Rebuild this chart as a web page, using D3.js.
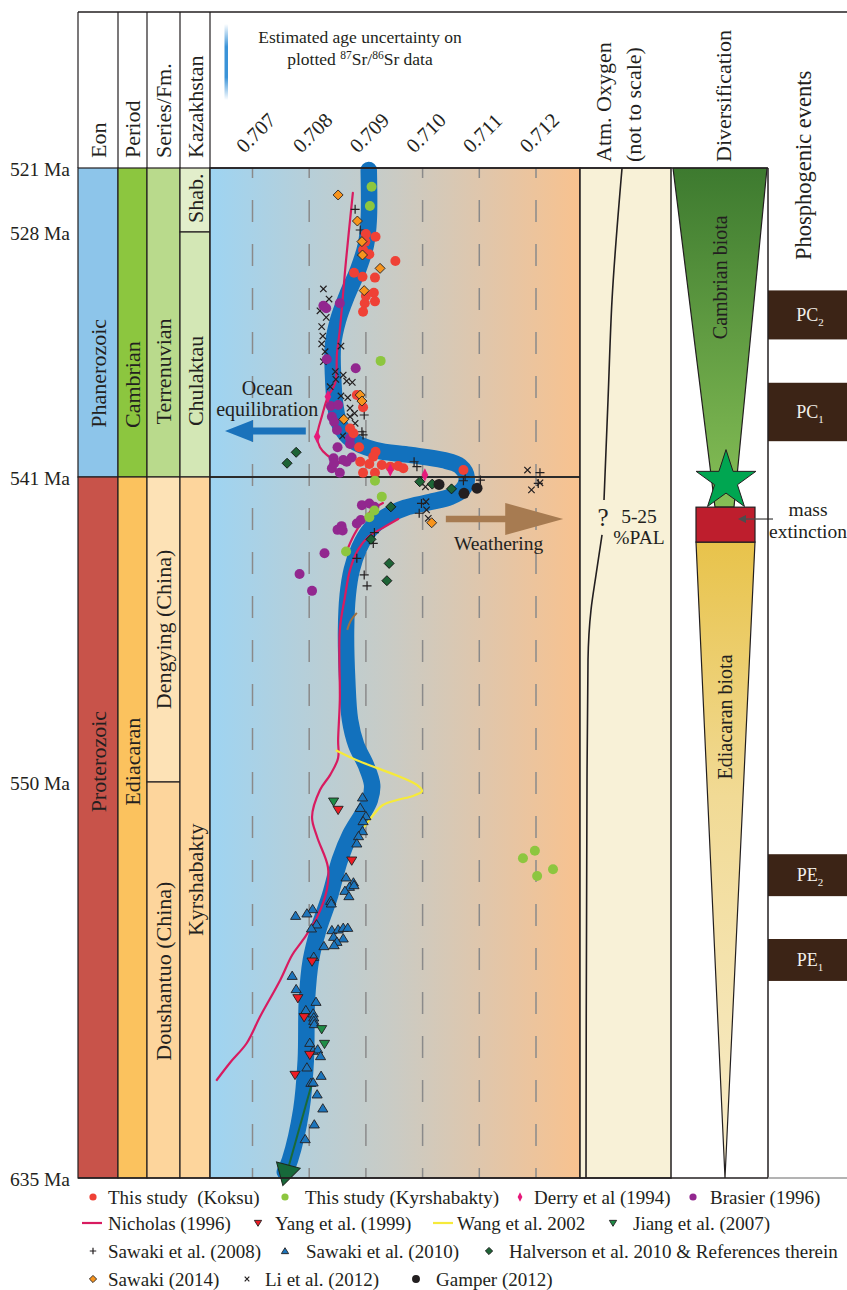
<!DOCTYPE html>
<html>
<head>
<meta charset="utf-8">
<script src="https://cdn.jsdelivr.net/npm/d3@7"></script>
<style>
  body { margin: 0; background: #fff; }
  svg text { font-family: "Liberation Serif", "Times New Roman", serif; fill: #231f20; }
</style>
</head>
<body>
<svg id="chart" width="847" height="1290"></svg>
<script>
// ---------------- Data ----------------
const ageTicks = [521, 528, 541, 550, 635];
const srTicks = [0.707, 0.708, 0.709, 0.710, 0.711, 0.712];

// Composite seawater 87Sr/86Sr curve: [age Ma, 87Sr/86Sr]
const srTrend = [
  [521.22, 0.70905], [526.69, 0.70905], [528.69, 0.70900], [530.02, 0.70886], [531.34, 0.70867],
  [532.67, 0.70851], [534.00, 0.70842], [535.59, 0.70842], [537.18, 0.70846], [538.24, 0.70854],
  [539.04, 0.70875], [539.57, 0.70916], [539.83, 0.70978], [540.10, 0.71036], [540.42, 0.71066],
  [541.03, 0.71078], [541.38, 0.71070], [541.59, 0.71048], [541.74, 0.71013], [541.91, 0.70969],
  [542.18, 0.70934], [542.56, 0.70907], [543.10, 0.70888], [543.74, 0.70875], [544.48, 0.70868],
  [545.51, 0.70865], [546.99, 0.70867], [548.17, 0.70872], [548.91, 0.70883], [549.50, 0.70900],
  [550.64, 0.70911], [553.86, 0.70907], [557.08, 0.70893], [561.38, 0.70872], [566.74, 0.70854],
  [574.25, 0.70837], [581.77, 0.70816], [588.21, 0.70803], [596.79, 0.70796], [609.67, 0.70794],
  [620.40, 0.70786], [631.13, 0.70766], [633.71, 0.70757]
];

// Nicholas (1996) curve, three traced pieces
const nicholasUpper = [
  [523.73, 0.70877], [529.49, 0.70865], [533.20, 0.70854], [534.42, 0.70849], [536.01, 0.70846],
  [536.74, 0.70833], [537.71, 0.70823], [538.86, 0.70814], [539.42, 0.70819], [539.83, 0.70831],
  [540.26, 0.70854]
];
const nicholasArc = [
  [541.77, 0.70930], [541.97, 0.70911], [542.33, 0.70893], [542.71, 0.70879], [543.15, 0.70867]
];
const nicholasLower = [
  [542.24, 0.70957], [542.50, 0.70930], [542.77, 0.70904], [543.15, 0.70886], [543.74, 0.70872],
  [544.54, 0.70863], [545.51, 0.70854], [547.58, 0.70854], [548.76, 0.70851], [549.29, 0.70851],
  [549.79, 0.70837], [551.72, 0.70819], [557.51, 0.70805], [561.81, 0.70814], [568.24, 0.70833],
  [573.18, 0.70831], [578.98, 0.70814], [583.91, 0.70789], [587.13, 0.70770], [592.50, 0.70749],
  [600.44, 0.70713], [606.02, 0.70690], [610.31, 0.70660], [613.96, 0.70637]
];

// Wang et al. 2002
const wang2002 = [
  [549.06, 0.70847], [549.35, 0.70883], [549.59, 0.70920], [549.88, 0.70965], [550.64, 0.70990],
  [551.93, 0.70999], [553.00, 0.70983], [553.86, 0.70955], [554.94, 0.70930], [557.08, 0.70913],
  [559.66, 0.70897]
];

// Jiang et al. (2007) trend with end arrow
const jiangTrend = [[614.61, 0.70805], [632.85, 0.70763]];
const jiangTip = [633.7, 0.70760];

// short brown trace
const brownTrace = [[545.51, 0.70867], [545.22, 0.70874], [545.01, 0.70884]];

// Point series: [age Ma, 87Sr/86Sr]
const koksu = [
  [528.11, 0.70900], [528.25, 0.70917], [528.51, 0.70899], [528.96, 0.70895], [529.18, 0.70906],
  [529.54, 0.70952], [530.16, 0.70879], [530.37, 0.70894], [530.42, 0.70916], [531.40, 0.70900],
  [531.22, 0.70914], [531.78, 0.70898], [531.68, 0.70916], [532.23, 0.70895],
  [536.65, 0.70884], [537.30, 0.70895], [538.42, 0.70872], [538.68, 0.70878], [539.42, 0.70888],
  [539.66, 0.70917], [539.92, 0.70913], [540.19, 0.70890], [540.31, 0.70906], [540.36, 0.70928],
  [540.45, 0.70943], [540.42, 0.70957], [540.54, 0.70966], [540.77, 0.70895], [540.77, 0.70916],
  [540.63, 0.71072]
];
const kyrshabakty = [
  [523.05, 0.70910], [525.16, 0.70907], [534.84, 0.70926], [541.11, 0.70916], [541.58, 0.70928],
  [541.99, 0.70915], [542.19, 0.70906], [543.20, 0.70865],
  [564.75, 0.71198], [566.38, 0.71177], [568.74, 0.71230], [570.18, 0.71202]
];
const derry1994 = [[536.74, 0.70833], [538.86, 0.70814], [540.89, 0.71004], [540.63, 0.70943]];
const brasier1996 = [
  [531.91, 0.70825], [532.05, 0.70830], [531.78, 0.70854], [534.75, 0.70831], [535.23, 0.70882],
  [537.23, 0.70838], [537.18, 0.70851], [537.80, 0.70840], [538.07, 0.70844], [538.51, 0.70849],
  [538.95, 0.70872], [539.25, 0.70872], [539.42, 0.70850], [540.01, 0.70843], [540.10, 0.70860],
  [539.97, 0.70875], [540.54, 0.70840], [540.77, 0.70854], [540.19, 0.70866], [540.27, 0.70844],
  [541.83, 0.70893], [541.78, 0.70906], [541.88, 0.70915], [542.37, 0.70884], [542.27, 0.70891],
  [542.45, 0.70857], [542.56, 0.70850], [542.58, 0.70859], [543.25, 0.70827], [543.86, 0.70783],
  [544.36, 0.70805]
];
const yang1999 = [
  [556.01, 0.70851], [566.89, 0.70875], [588.57, 0.70805], [596.43, 0.70780], [600.51, 0.70791],
  [608.60, 0.70801], [612.89, 0.70775]
];
const jiang2007 = [[554.23, 0.70843], [603.08, 0.70822], [606.24, 0.70827]];
const sawaki2008 = [
  [525.52, 0.70881], [527.78, 0.70890], [537.71, 0.70897], [538.60, 0.70893], [538.77, 0.70895],
  [540.19, 0.70985], [540.45, 0.70990], [540.98, 0.71075], [541.11, 0.71072], [541.09, 0.71102],
  [540.77, 0.71207], [541.19, 0.71204], [541.78, 0.70998], [542.07, 0.70994], [542.64, 0.70915],
  [542.96, 0.70913], [543.40, 0.70884], [543.89, 0.70897], [544.21, 0.70902]
];
const sawaki2010 = [
  [553.28, 0.70894], [555.52, 0.70890], [557.30, 0.70900], [558.37, 0.70895], [560.52, 0.70894],
  [561.59, 0.70887], [563.16, 0.70884], [570.46, 0.70865], [571.53, 0.70878], [572.47, 0.70871],
  [573.33, 0.70863], [574.47, 0.70870], [572.11, 0.70879], [575.48, 0.70838], [576.04, 0.70839],
  [577.26, 0.70806], [578.18, 0.70796], [578.70, 0.70776], [580.54, 0.70813], [581.40, 0.70804],
  [581.77, 0.70840], [581.62, 0.70851], [581.27, 0.70860], [581.27, 0.70868], [583.20, 0.70843],
  [583.55, 0.70860], [584.28, 0.70849], [585.20, 0.70826], [584.99, 0.70844], [587.50, 0.70808],
  [591.58, 0.70770], [594.43, 0.70777], [597.16, 0.70812], [598.94, 0.70794], [599.65, 0.70807],
  [600.51, 0.70808], [601.23, 0.70808], [601.94, 0.70809], [605.96, 0.70801], [607.67, 0.70807],
  [607.37, 0.70815], [608.81, 0.70820], [611.24, 0.70796], [613.04, 0.70821], [614.54, 0.70803],
  [614.46, 0.70807], [617.03, 0.70814], [620.04, 0.70824], [623.47, 0.70809], [626.63, 0.70793]
];
const halverson2010 = [
  [539.69, 0.70777], [540.27, 0.70761], [541.14, 0.70995], [541.21, 0.71017], [541.35, 0.71051],
  [541.88, 0.70944], [542.84, 0.70909], [543.55, 0.70941], [544.06, 0.70937]
];
const sawaki2014 = [
  [523.95, 0.70851], [526.80, 0.70885], [528.51, 0.70893], [529.22, 0.70894], [529.93, 0.70925],
  [531.11, 0.70897], [536.65, 0.70890], [536.97, 0.70893], [537.94, 0.70861], [542.35, 0.71016]
];
const li2012 = [
  [531.02, 0.70825], [531.56, 0.70835], [532.18, 0.70819], [532.53, 0.70830], [533.02, 0.70822],
  [533.52, 0.70824], [533.94, 0.70822], [534.05, 0.70856], [534.35, 0.70828], [534.88, 0.70825],
  [535.41, 0.70846], [535.59, 0.70860], [535.82, 0.70847], [535.91, 0.70866], [535.98, 0.70876],
  [536.21, 0.70837], [536.70, 0.70856], [536.79, 0.70868], [537.35, 0.70872], [537.62, 0.70880],
  [537.80, 0.70872], [538.15, 0.70881], [538.82, 0.70859], [540.63, 0.71185], [541.38, 0.71192],
  [541.17, 0.71207], [541.29, 0.71005], [541.73, 0.71006], [541.97, 0.71007], [542.22, 0.71010]
];
const gamper2012 = [[541.22, 0.71029], [541.48, 0.71073], [541.33, 0.71096]];

// Stratigraphic columns
const eonUnits = [
  { name: "Phanerozoic", from: 521, to: 541, mid: 535.5 },
  { name: "Proterozoic", from: 541, to: 635, mid: 549.4 }
];
const periodUnits = [
  { name: "Cambrian", from: 521, to: 541, mid: 536.1 },
  { name: "Ediacaran", from: 541, to: 635, mid: 549.4 }
];
const seriesUnits = [
  { name: "Terrenuvian", from: 521, to: 541, mid: 535.4 },
  { name: "Dengying (China)", from: 541, to: 550, mid: 545.5 },
  { name: "Doushantuo (China)", from: 550, to: 635, mid: 590.6 }
];
const kazakhUnits = [
  { name: "Shab.", from: 521, to: 528, mid: 524.3 },
  { name: "Chulaktau", from: 528, to: 541, mid: 535.9 },
  { name: "Kyrshabakty", from: 541, to: 635, mid: 571.0 }
];

// Atmospheric oxygen (relative, not to scale): [age Ma, level]
const oxygenUpper = [[521, 0.462], [531.6, 0.352], [536.9, 0.308], [541.68, 0.264]];
const oxygenLower = [[542.71, 0.242], [543.89, 0.176], [544.92, 0.121], [546.4, 0.088], [549.94, 0.077], [635, 0.066]];

// Diversification intervals (Ma)
const cambrianBiota = { from: 521, to: 541.89 };
const massExtinction = { from: 541.89, to: 542.92 };
const ediacaranBiota = { from: 542.92, to: 635 };
const radiationAge = 541.12;

// Phosphogenic events (Ma)
const phosEvents = [
  { name: "PC", sub: "2", from: 531.1, to: 533.7 },
  { name: "PC", sub: "1", from: 536.0, to: 539.1 },
  { name: "PE", sub: "2", from: 565.5, to: 574.5 },
  { name: "PE", sub: "1", from: 583.7, to: 592.7 }
];

// ---------------- Layout ----------------
const W = 847;
const plotL = 210, plotR = 580, plotTop = 168, plotBottom = 1178;
const ageY = [168, 232, 477, 782, 1178];
const y = d3.scaleLinear().domain(ageTicks).range(ageY);
const x = d3.scaleLinear().domain([0.707, 0.712]).range([252.5, 536]);
const oxX = d3.scaleLinear().domain([0, 1]).range([580, 671]);

const svg = d3.select("#chart");
const defs = svg.append("defs");

function linGrad(id, vertical, stops) {
  const g = defs.append("linearGradient").attr("id", id)
    .attr("x1", 0).attr("y1", 0).attr("x2", vertical ? 0 : 1).attr("y2", vertical ? 1 : 0);
  stops.forEach(([o, c, op]) => g.append("stop").attr("offset", o).attr("stop-color", c)
    .attr("stop-opacity", op === undefined ? 1 : op));
}
linGrad("srBg", false, [[0, "#9ed4f2"], [0.25, "#b5cfda"], [0.5, "#cacbc4"], [0.75, "#e1c6aa"], [1, "#f8c28f"]]);
linGrad("camGrad", true, [[0, "#3d7a2f"], [1, "#86bf56"]]);
linGrad("ediGrad", true, [[0, "#e8c34b"], [0.4, "#f1da95"], [1, "#f8edcb"]]);
linGrad("uncGrad", true, [[0, "#3a93d8", 0], [0.3, "#3a93d8", 1], [0.7, "#3a93d8", 1], [1, "#3a93d8", 0]]);

const ink = "#231f20";

// ---------- Header ----------
svg.append("line").attr("x1", 78).attr("x2", W).attr("y1", 12).attr("y2", 12)
  .attr("stroke", ink).attr("stroke-width", 1.5);

const cols = [
  { x0: 78, x1: 118, title: "Eon", units: eonUnits, colors: ["#8dc5ea", "#c8534a"] },
  { x0: 118, x1: 147, title: "Period", units: periodUnits, colors: ["#8cc63f", "#fbc25e"] },
  { x0: 147, x1: 180, title: "Series/Fm.", units: seriesUnits, colors: ["#b9da8c", "#fde2b6", "#fdd59c"] },
  { x0: 180, x1: 210, title: "Kazakhstan", units: kazakhUnits, colors: ["#e2eecb", "#d3e7b5", "#fdd59c"] }
];

cols.forEach(c => {
  const cx = (c.x0 + c.x1) / 2;
  svg.append("line").attr("x1", c.x0).attr("x2", c.x0).attr("y1", 12).attr("y2", plotTop)
    .attr("stroke", ink).attr("stroke-width", 1.2);
  svg.append("text").attr("transform", `translate(${cx},158) rotate(-90)`)
    .attr("dy", "0.35em").style("font-size", "22px").text(c.title);
  const g = svg.append("g");
  g.selectAll("rect").data(c.units).join("rect")
    .attr("x", c.x0).attr("width", c.x1 - c.x0)
    .attr("y", d => y(d.from)).attr("height", d => y(d.to) - y(d.from))
    .attr("fill", (d, i) => c.colors[i]).attr("stroke", ink).attr("stroke-width", 1.2);
  g.selectAll("text").data(c.units).join("text")
    .attr("transform", d => `translate(${cx},${y(d.mid)}) rotate(-90)`)
    .attr("text-anchor", "middle").attr("dy", "0.35em")
    .style("font-size", "22px").text(d => d.name);
});
svg.append("line").attr("x1", 210).attr("x2", 210).attr("y1", 12).attr("y2", plotTop)
  .attr("stroke", ink).attr("stroke-width", 1.2);

// Age labels
const gy = svg.append("g").attr("transform", "translate(73,0)")
  .call(d3.axisLeft(y).tickValues(ageTicks).tickSize(0).tickPadding(3).tickFormat(d => d + " Ma"));
gy.select(".domain").remove();
gy.attr("font-family", null).attr("font-size", null);
gy.selectAll("text").style("font-size", "19.5px").attr("dy", "0.4em");

// Sr ratio labels, slanted 45 degrees
const fmtSr = d3.format(".3f");
const srLab = svg.append("g").selectAll("g").data(srTicks).join("g")
  .attr("transform", d => `translate(${x(d) - 8},154) rotate(-45)`);
srLab.append("text").attr("x", 0).attr("y", 0)
  .style("font-size", "20.5px").text(d => fmtSr(d));

// Age uncertainty note
svg.append("rect").attr("x", 224.5).attr("y", 24).attr("width", 3.5).attr("height", 76)
  .attr("fill", "url(#uncGrad)");
svg.append("text").attr("x", 360).attr("y", 43).attr("text-anchor", "middle")
  .style("font-size", "17.5px").text("Estimated age uncertainty on");
const cap2 = svg.append("text").attr("x", 360).attr("y", 65).attr("text-anchor", "middle")
  .style("font-size", "17.5px");
cap2.append("tspan").text("plotted ");
cap2.append("tspan").attr("dy", -6).style("font-size", "11.5px").text("87");
cap2.append("tspan").attr("dy", 6).text("Sr/");
cap2.append("tspan").attr("dy", -6).style("font-size", "11.5px").text("86");
cap2.append("tspan").attr("dy", 6).text("Sr data");

// Right-hand column titles
[["Atm. Oxygen", 603], ["(not to scale)", 633], ["Diversification", 723]].forEach(([t, cx]) => {
  svg.append("text").attr("transform", `translate(${cx},162) rotate(-90)`)
    .attr("dy", "0.35em").style("font-size", "22px").text(t);
});
svg.append("text").attr("transform", "translate(803,260) rotate(-90)")
  .attr("dy", "0.35em").style("font-size", "22.5px").text("Phosphogenic events");

// ---------- Sr plot ----------
const plot = svg.append("g");
plot.append("rect").attr("x", plotL).attr("y", plotTop).attr("width", plotR - plotL).attr("height", plotBottom - plotTop)
  .attr("fill", "url(#srBg)");
plot.selectAll(".grid").data(srTicks).join("line").attr("class", "grid")
  .attr("x1", d => x(d)).attr("x2", d => x(d)).attr("y1", plotTop).attr("y2", plotBottom)
  .attr("stroke", "#8a8a8a").attr("stroke-width", 1.5)
  .attr("stroke-dasharray", "22 22").attr("stroke-dashoffset", 12);

const line = d3.line().x(d => x(d[1])).y(d => y(d[0])).curve(d3.curveCatmullRom.alpha(0.5));

plot.append("path").attr("d", line(srTrend)).attr("fill", "none")
  .attr("stroke", "#1271bd").attr("stroke-width", 16.5)
  .attr("stroke-linecap", "round").attr("stroke-linejoin", "round");

// Boundary at 541 Ma
plot.append("line").attr("x1", plotL).attr("x2", plotR).attr("y1", y(541)).attr("y2", y(541))
  .attr("stroke", "#2b2b2b").attr("stroke-width", 2);

[nicholasUpper, nicholasArc, nicholasLower].forEach(seg => {
  plot.append("path").attr("d", line(seg)).attr("fill", "none")
    .attr("stroke", "#d81b60").attr("stroke-width", 2.2).attr("stroke-linecap", "round");
});
plot.append("path").attr("d", line(wang2002)).attr("fill", "none")
  .attr("stroke", "#f6ea3a").attr("stroke-width", 2.2);
plot.append("path").attr("d", line(brownTrace)).attr("fill", "none")
  .attr("stroke", "#a0703f").attr("stroke-width", 2);

// Arrows
function arrowPath(xTail, xTip, yc, shaft, headLen, headHalf) {
  const s = Math.sign(xTip - xTail);
  const xb = xTip - s * headLen;
  return `M${xTail},${yc - shaft / 2}L${xb},${yc - shaft / 2}L${xb},${yc - headHalf}L${xTip},${yc}` +
         `L${xb},${yc + headHalf}L${xb},${yc + shaft / 2}L${xTail},${yc + shaft / 2}Z`;
}
const oceanArrow = { from: 0.70794, to: 0.706515, age: 538.56 };
const weatherArrow = { from: 0.71041, to: 0.71248, age: 542.24 };
plot.append("path")
  .attr("d", arrowPath(x(oceanArrow.from), x(oceanArrow.to), y(oceanArrow.age), 7, 28, 11))
  .attr("fill", "#1a72bb");
plot.append("path")
  .attr("d", arrowPath(x(weatherArrow.from), x(weatherArrow.to), y(weatherArrow.age), 6.5, 58, 16))
  .attr("fill", "#a77b51");
plot.append("text").attr("x", x(0.70726)).attr("y", y(536.28)).attr("text-anchor", "middle")
  .attr("dy", "0.35em").style("font-size", "20px").text("Ocean");
plot.append("text").attr("x", x(0.70726)).attr("y", y(537.39)).attr("text-anchor", "middle")
  .attr("dy", "0.35em").style("font-size", "20px").text("equilibration");
plot.append("text").attr("x", x(0.71134)).attr("y", y(542.95)).attr("text-anchor", "middle")
  .attr("dy", "0.35em").style("font-size", "19.5px").text("Weathering");

// Jiang trend with arrow head
plot.append("path").attr("d", line(jiangTrend)).attr("fill", "none")
  .attr("stroke", "#1b6a37").attr("stroke-width", 2);
plot.append("path").attr("d", d3.symbol(d3.symbolTriangle, 260)())
  .attr("transform", `translate(${x(jiangTip[1])},${y(jiangTip[0])}) rotate(195)`)
  .attr("fill", "#17693a").attr("stroke", "#1d2a1f").attr("stroke-width", 1);

// Markers
function shapePath(shape, s) {
  switch (shape) {
    case "circle": return d3.symbol(d3.symbolCircle, Math.PI * s * s)();
    case "rhomb": return `M0,${-s * 1.2}L${s * 0.6},0L0,${s * 1.2}L${-s * 0.6},0Z`;
    case "diamond": return `M0,${-s}L${s},0L0,${s}L${-s},0Z`;
    case "up": return `M0,${-s}L${s * 1.1},${s * 0.8}L${-s * 1.1},${s * 0.8}Z`;
    case "down": return `M0,${s}L${s * 1.1},${-s * 0.8}L${-s * 1.1},${-s * 0.8}Z`;
    case "plus": return `M${-s},0H${s}M0,${-s}V${s}`;
    case "times": return `M${-s},${-s}L${s},${s}M${s},${-s}L${-s},${s}`;
  }
}
const markStyle = {
  koksu:      { shape: "circle", s: 5,   fill: "#ef4136" },
  kyr:        { shape: "circle", s: 5,   fill: "#8dc63f" },
  derry:      { shape: "rhomb",  s: 5.5, fill: "#e6197a" },
  brasier:    { shape: "circle", s: 5,   fill: "#92278f" },
  yang:       { shape: "down",   s: 4.6, fill: "#ed1c24", stroke: ink },
  jiang:      { shape: "down",   s: 4.6, fill: "#1e8c46", stroke: ink },
  sawaki08:   { shape: "plus",   s: 4.5, line: true },
  sawaki10:   { shape: "up",     s: 4.6, fill: "#1c75bc", stroke: ink },
  halverson:  { shape: "diamond", s: 5,  fill: "#1d6436", stroke: "#111" },
  sawaki14:   { shape: "diamond", s: 5,  fill: "#f7941d", stroke: ink },
  li:         { shape: "times",  s: 3.2, line: true },
  gamper:     { shape: "circle", s: 5.5, fill: "#231f20" }
};
function styleMark(sel, st) {
  if (st.line) sel.attr("fill", "none").attr("stroke", ink).attr("stroke-width", 1.2);
  else sel.attr("fill", st.fill).attr("stroke", st.stroke || "none").attr("stroke-width", st.stroke ? 0.9 : 0);
}
const pointSeries = [
  ["li", li2012], ["sawaki08", sawaki2008], ["brasier", brasier1996], ["koksu", koksu],
  ["kyr", kyrshabakty], ["sawaki14", sawaki2014], ["halverson", halverson2010],
  ["derry", derry1994], ["gamper", gamper2012], ["sawaki10", sawaki2010],
  ["yang", yang1999], ["jiang", jiang2007]
];
pointSeries.forEach(([key, data]) => {
  const st = markStyle[key];
  const sel = plot.append("g").selectAll("path").data(data).join("path")
    .attr("d", shapePath(st.shape, st.s))
    .attr("transform", d => `translate(${x(d[1])},${y(d[0])})`);
  styleMark(sel, st);
});

plot.append("rect").attr("x", plotL).attr("y", plotTop).attr("width", plotR - plotL).attr("height", plotBottom - plotTop)
  .attr("fill", "none").attr("stroke", ink).attr("stroke-width", 1.5);

// ---------- Atmospheric oxygen ----------
svg.append("rect").attr("x", 580).attr("y", plotTop).attr("width", 91).attr("height", plotBottom - plotTop)
  .attr("fill", "#f8f1d7").attr("stroke", ink).attr("stroke-width", 1.5);
const oxLine = d3.line().x(d => oxX(d[1])).y(d => y(d[0])).curve(d3.curveMonotoneY);
[oxygenUpper, oxygenLower].forEach(seg => {
  svg.append("path").attr("d", oxLine(seg)).attr("fill", "none")
    .attr("stroke", ink).attr("stroke-width", 1.6);
});
svg.append("text").attr("x", 603).attr("y", y(542.2)).attr("text-anchor", "middle")
  .attr("dy", "0.35em").style("font-size", "25px").text("?");
svg.append("text").attr("x", 639).attr("y", y(542.16)).attr("text-anchor", "middle")
  .attr("dy", "0.35em").style("font-size", "19.5px").text("5-25");
svg.append("text").attr("x", 639).attr("y", y(542.78)).attr("text-anchor", "middle")
  .attr("dy", "0.35em").style("font-size", "19.5px").text("%PAL");

// ---------- Diversification ----------
const divTop = [673, 767], divNeck = [715, 734];
svg.append("path")
  .attr("d", `M${divTop[0]},${y(cambrianBiota.from)}L${divTop[1]},${y(cambrianBiota.from)}` +
             `L${divNeck[1]},${y(cambrianBiota.to)}L${divNeck[0]},${y(cambrianBiota.to)}Z`)
  .attr("fill", "url(#camGrad)").attr("stroke", ink).attr("stroke-width", 1.2);
const boxX = [696, 755], apexX = 725;
svg.append("path")
  .attr("d", `M${boxX[0]},${y(ediacaranBiota.from)}L${boxX[1]},${y(ediacaranBiota.from)}` +
             `L${apexX},${y(ediacaranBiota.to)}Z`)
  .attr("fill", "url(#ediGrad)").attr("stroke", ink).attr("stroke-width", 1.2);
svg.append("rect").attr("x", boxX[0]).attr("y", y(massExtinction.from))
  .attr("width", boxX[1] - boxX[0]).attr("height", y(massExtinction.to) - y(massExtinction.from))
  .attr("fill", "#be1e2d").attr("stroke", ink).attr("stroke-width", 1.2);
svg.append("path").attr("d", d3.symbol(d3.symbolStar, 1110)())
  .attr("transform", `translate(726,${y(radiationAge)})`)
  .attr("fill", "#00a651").attr("stroke", ink).attr("stroke-width", 1);
svg.append("text").attr("transform", `translate(720,${y(530.4)}) rotate(-90)`)
  .attr("text-anchor", "middle").attr("dy", "0.35em").style("font-size", "20px").text("Cambrian biota");
svg.append("text").attr("transform", `translate(725,${y(548.08)}) rotate(-90)`)
  .attr("text-anchor", "middle").attr("dy", "0.35em").style("font-size", "20px").text("Ediacaran biota");

// mass extinction pointer
const meY = y(542.24);
svg.append("line").attr("x1", 773).attr("x2", 744).attr("y1", meY).attr("y2", meY)
  .attr("stroke", "#4d4d4d").attr("stroke-width", 1.3);
svg.append("path").attr("d", `M738,${meY}L746,${meY - 4}L746,${meY + 4}Z`).attr("fill", "#4d4d4d");
svg.append("text").attr("x", 808).attr("y", y(541.94)).attr("text-anchor", "middle")
  .attr("dy", "0.35em").style("font-size", "19.5px").text("mass");
svg.append("text").attr("x", 808).attr("y", y(542.59)).attr("text-anchor", "middle")
  .attr("dy", "0.35em").style("font-size", "19.5px").text("extinction");

// ---------- Phosphogenic events ----------
const pg = svg.append("g");
pg.selectAll("rect").data(phosEvents).join("rect")
  .attr("x", 768).attr("width", W - 768)
  .attr("y", d => y(d.from)).attr("height", d => y(d.to) - y(d.from))
  .attr("fill", "#3c2416");
const pt = pg.selectAll("text").data(phosEvents).join("text")
  .attr("x", 810).attr("y", d => (y(d.from) + y(d.to)) / 2).attr("dy", "0.35em")
  .attr("text-anchor", "middle").style("font-size", "18px");
pt.append("tspan").style("fill", "#f2efe9").text(d => d.name);
pt.append("tspan").attr("dy", 5).style("font-size", "11px").style("fill", "#f2efe9").text(d => d.sub);

// column frame lines
svg.append("line").attr("x1", 768).attr("x2", 768).attr("y1", plotTop).attr("y2", plotBottom)
  .attr("stroke", ink).attr("stroke-width", 1.5);
svg.append("line").attr("x1", 78).attr("x2", 768).attr("y1", plotBottom).attr("y2", plotBottom)
  .attr("stroke", ink).attr("stroke-width", 1.5);
svg.append("line").attr("x1", 768).attr("x2", W).attr("y1", plotBottom).attr("y2", plotBottom)
  .attr("stroke", "#9a9a9a").attr("stroke-width", 1.5);
svg.append("line").attr("x1", 210).attr("x2", 768).attr("y1", plotTop).attr("y2", plotTop)
  .attr("stroke", ink).attr("stroke-width", 1.5);

// ---------- Legend ----------
const legendEntries = [
  { key: "koksu", label: "This study  (Koksu)" },
  { key: "kyr", label: "This study (Kyrshabakty)" },
  { key: "derry", label: "Derry et al (1994)" },
  { key: "brasier", label: "Brasier (1996)" },
  { key: "nicholas", label: "Nicholas (1996)" },
  { key: "yang", label: "Yang et al. (1999)" },
  { key: "wang", label: "Wang et al. 2002" },
  { key: "jiang", label: "Jiang et al. (2007)" },
  { key: "sawaki08", label: "Sawaki et al. (2008)" },
  { key: "sawaki10", label: "Sawaki et al. (2010)" },
  { key: "halverson", label: "Halverson et al. 2010 & References therein" },
  { key: "sawaki14", label: "Sawaki (2014)" },
  { key: "li", label: "Li et al. (2012)" },
  { key: "gamper", label: "Gamper (2012)" }
];
// [symbol x, text x, row y] for each entry
const legendSlots = [
  [93, 108, 1197], [285, 305, 1197], [520, 534, 1197], [693, 710, 1197],
  [93, 108, 1223], [258, 275, 1223], [444, 457, 1223], [613, 633, 1223],
  [93, 108, 1251], [285, 306, 1251], [489, 509, 1251],
  [93, 108, 1279], [247, 265, 1279], [416, 436, 1279]
];
const lineKeys = { nicholas: "#d81b60", wang: "#f6ea3a" };
const lg = svg.append("g");
legendEntries.forEach((e, i) => {
  const [sx, tx, ly] = legendSlots[i];
  if (lineKeys[e.key]) {
    lg.append("line").attr("x1", sx - 11).attr("x2", sx + 9).attr("y1", ly).attr("y2", ly)
      .attr("stroke", lineKeys[e.key]).attr("stroke-width", 2.2);
  } else {
    const st = markStyle[e.key];
    const m = lg.append("path").attr("d", shapePath(st.shape, st.s * 0.72))
      .attr("transform", `translate(${sx},${ly})`);
    styleMark(m, st);
  }
  lg.append("text").attr("x", tx).attr("y", ly).attr("dy", "0.35em")
    .style("font-size", "19px").style("white-space", "pre").text(e.label);
});
</script>
</body>
</html>
